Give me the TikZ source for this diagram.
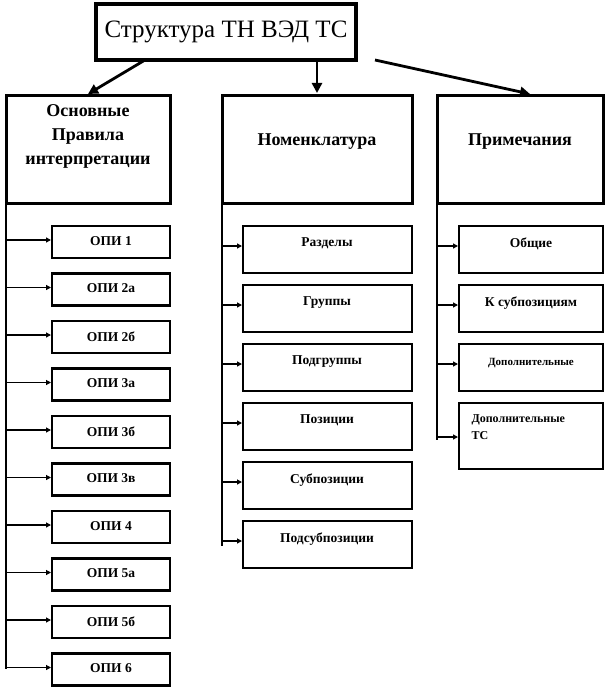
\documentclass[tikz,border=0pt]{standalone}
\usepackage{fontspec}
\setmainfont{Liberation Serif}
\usetikzlibrary{arrows.meta}

\tikzset{
  headbox/.style={draw, line width=3pt, inner sep=0pt},
  itembox/.style={draw, line width=2.6pt, inner sep=0pt},
  itemtext/.style={anchor=north, font=\bfseries\fontsize{13.5}{14}\selectfont, align=center},
  bigarrow/.style={line width=2.8pt, -{Triangle[length=10pt, width=10pt]}},
  smallarrow/.style={line width=1.2pt, -{Triangle[length=5pt, width=5pt]}}
}

\begin{document}
\begin{tikzpicture}[x=1pt, y=-1pt]
\useasboundingbox (0,0) rectangle (609,695);

% Title
\draw[headbox, line width=4pt] (96,4) rectangle (356,60);
\node[font=\fontsize{25}{28}\selectfont] (title) at (226,32) {Структура ТН ВЭД ТС};

% Headers
\draw[headbox] (6,96) rectangle (170,203);
\node[font=\bfseries\fontsize{18}{24}\selectfont, align=center, anchor=north] (opi) at (88,101) {Основные\\Правила\\интерпретации};
\draw[headbox] (222,96) rectangle (412,203);
\node[font=\bfseries\fontsize{18}{24}\selectfont, anchor=north] (nom) at (317,130) {Номенклатура};
\draw[headbox] (437,96) rectangle (603,203);
\node[font=\bfseries\fontsize{18}{24}\selectfont, anchor=north] (prim) at (520,130) {Примечания};

\coordinate (t1) at (145,60);
\coordinate (t2) at (317,60);
\coordinate (t3) at (375,60);
\coordinate (h1) at (88,94);
\coordinate (h2) at (317,93);
\coordinate (h3) at (530,94);
\draw[bigarrow] (t1) -- (h1);
\draw[bigarrow] (t2) -- (h2);
\draw[bigarrow] (t3) -- (h3);

% Left column
\draw[line width=1.6pt] (6,203) -- (6,669);
\foreach \lbl [count=\i from 0] in {ОПИ 1, ОПИ 2а, ОПИ 2б, ОПИ 3а, ОПИ 3б, ОПИ 3в, ОПИ 4, ОПИ 5а, ОПИ 5б, ОПИ 6}{
  \pgfmathsetmacro{\yt}{226+47.5*\i}
  \draw[itembox] (52,\yt) rectangle (170,\yt+32);
  \node[itemtext] (l\i) at (111,\yt+7) {\lbl};
  \draw[smallarrow] (6,\yt+14) -- (51,\yt+14);
}

% Middle column
\draw[line width=1.6pt] (222,203) -- (222,546);
\foreach \lbl [count=\i from 0] in {Разделы, Группы, Подгруппы, Позиции, Субпозиции, Подсубпозиции}{
  \pgfmathsetmacro{\yt}{226+59*\i}
  \draw[itembox] (243,\yt) rectangle (412,\yt+47);
  \node[itemtext] (m\i) at (327,\yt+8) {\lbl};
  \draw[smallarrow] (222,\yt+20) -- (242,\yt+20);
}

% Right column
\draw[line width=1.6pt] (437,203) -- (437,440);
\foreach \h [count=\i from 0] in {47, 47, 47, 66}{
  \pgfmathsetmacro{\yt}{226+59*\i}
  \pgfmathsetmacro{\ya}{\yt+20+14*(\h-47)/19}
  \draw[itembox] (459,\yt) rectangle (603,\yt+\h);
  \draw[smallarrow] (437,\ya) -- (458,\ya);
}
\node[itemtext] (r0) at (531,234) {Общие};
\node[itemtext] (r1) at (531,293) {К субпозициям};
\node[itemtext, font=\bfseries\fontsize{11}{12}\selectfont] (r2) at (531,355) {Дополнительные};
\node[itemtext, anchor=north west, align=left, font=\bfseries\fontsize{12}{17}\selectfont] (r3) at (468,411) {Дополнительные\\ТС};

\end{tikzpicture}
\end{document}
